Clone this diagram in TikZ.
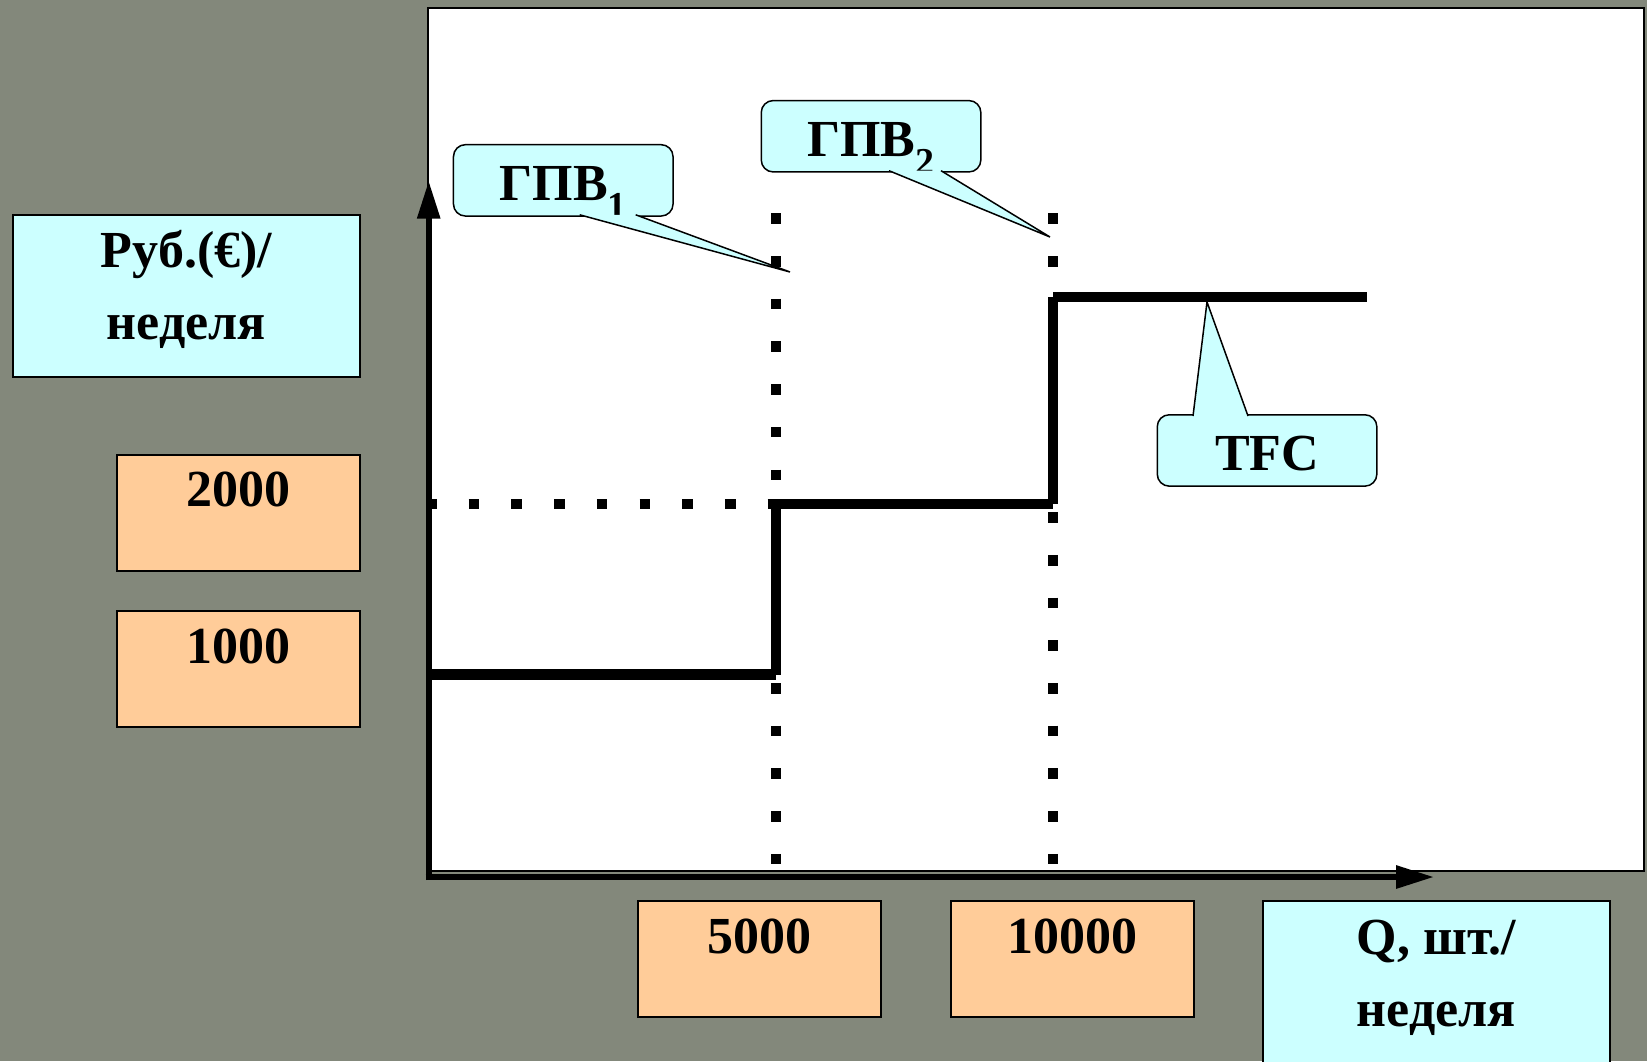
\documentclass[tikz,border=0pt]{standalone}
\usepackage{fontspec}
\setmainfont{Liberation Serif}
\usetikzlibrary{arrows.meta,calc}

\definecolor{slidegray}{RGB}{131,136,123}
\definecolor{boxcyan}{RGB}{204,255,255}
\definecolor{boxorange}{RGB}{255,204,153}

\newcommand{\lowsub}[1]{\raisebox{-9pt}{\fontsize{19}{19}\selectfont #1}}
\newcommand{\calltip}[3]{%
	\fill[boxcyan] #1 -- #2 -- #3 -- cycle;
	\draw[line width=0.75pt] #1 -- #2 -- #3;}

\begin{document}
\begin{tikzpicture}[x=0.5pt,y=-0.5pt,
		font=\fontsize{26}{36}\selectfont\bfseries,
		axisbox/.style={draw,line width=1pt,fill=boxcyan,inner sep=0pt,anchor=north west},
		numbox/.style={draw,line width=1pt,fill=boxorange,inner sep=0pt,anchor=north west,minimum width=121.8pt,text height=26pt,text depth=32pt},
		callbox/.style={draw,line width=0.75pt,fill=boxcyan,rounded corners=6pt,inner sep=0pt,anchor=north west,minimum width=109.8pt,text height=27.8pt,text depth=7.9pt},
		axisline/.style={line width=3pt,-{Triangle[length=19pt,width=11pt]}},
		tfcline/.style={line width=5.3pt},
		dotline/.style={line width=5.3pt,dash pattern=on 5.3pt off 16.05pt}]
		\fill[slidegray] (0,0) rectangle (1647,1061);
		\useasboundingbox (0,0) rectangle (1647,1061);
		\clip (0,0) rectangle (1647,1061);

		% plot area
		\draw[fill=white,line width=1pt] (428,8) rectangle (1644,871);

		% guide lines
		\draw[dotline] (776,213.3) -- (776,866);
		\draw[dotline] (1053,213.3) -- (1053,866);
		\draw[dotline] (426,504) -- (777,504);

		% TFC steps
		\draw[tfcline] (428,674.7) -- (776,674.7) (776,674.7) -- (776,504)
			(776,504) -- (1053,504) (1053,504) -- (1053,297) (1053,297) -- (1366.7,297);

		% axes
		\coordinate (O) at (428.7,877);
		\draw[axisline] (425.7,877) -- (1434,877);
		\draw[axisline] (428.7,880) -- (428.7,180.7);

		% axis labels and values
		\node[axisbox,minimum width=173.5pt,text height=26pt,text depth=55pt] (ylab) at (12,214)
			{\begin{tabular}[t]{@{}c@{}}Руб.(€)/\\неделя\end{tabular}};
		\node[numbox] (v2000) at (115.5,453.8) {2000};
		\node[numbox] (v1000) at (115.5,610.3) {1000};
		\node[numbox] (q5000) at (636.5,900.2) {5000};
		\node[numbox] (q10000) at (949.6,900.2) {10000};
		\node[axisbox,minimum width=173.9pt,text height=26.5pt,text depth=60pt] (xlab) at (1261.5,900.2)
			{\begin{tabular}[t]{@{}c@{}}Q, шт./\\неделя\end{tabular}};

		% callouts
		\node[callbox] (gpv1) at (452.7,143.9) {ГПВ\lowsub{1}};
		\node[callbox] (gpv2) at (760.5,99.8) {ГПВ\lowsub{2}};
		\node[callbox] (tfc) at (1156.5,414) {TFC};
		\coordinate (gpv1 tip) at (790,272);
		\coordinate (gpv2 tip) at (1050,237);
		\coordinate (tfc tip) at (1207,302);
		\calltip{($(gpv1.south west)+(127,-2)$)}{(gpv1 tip)}{($(gpv1.south west)+(183,-2)$)}
		\calltip{($(gpv2.south west)+(128.5,-2)$)}{(gpv2 tip)}{($(gpv2.south west)+(180.5,-2)$)}
		\calltip{($(tfc.north west)+(36.5,2)$)}{(tfc tip)}{($(tfc.north west)+(91.5,2)$)}
	\end{tikzpicture}
\end{document}
